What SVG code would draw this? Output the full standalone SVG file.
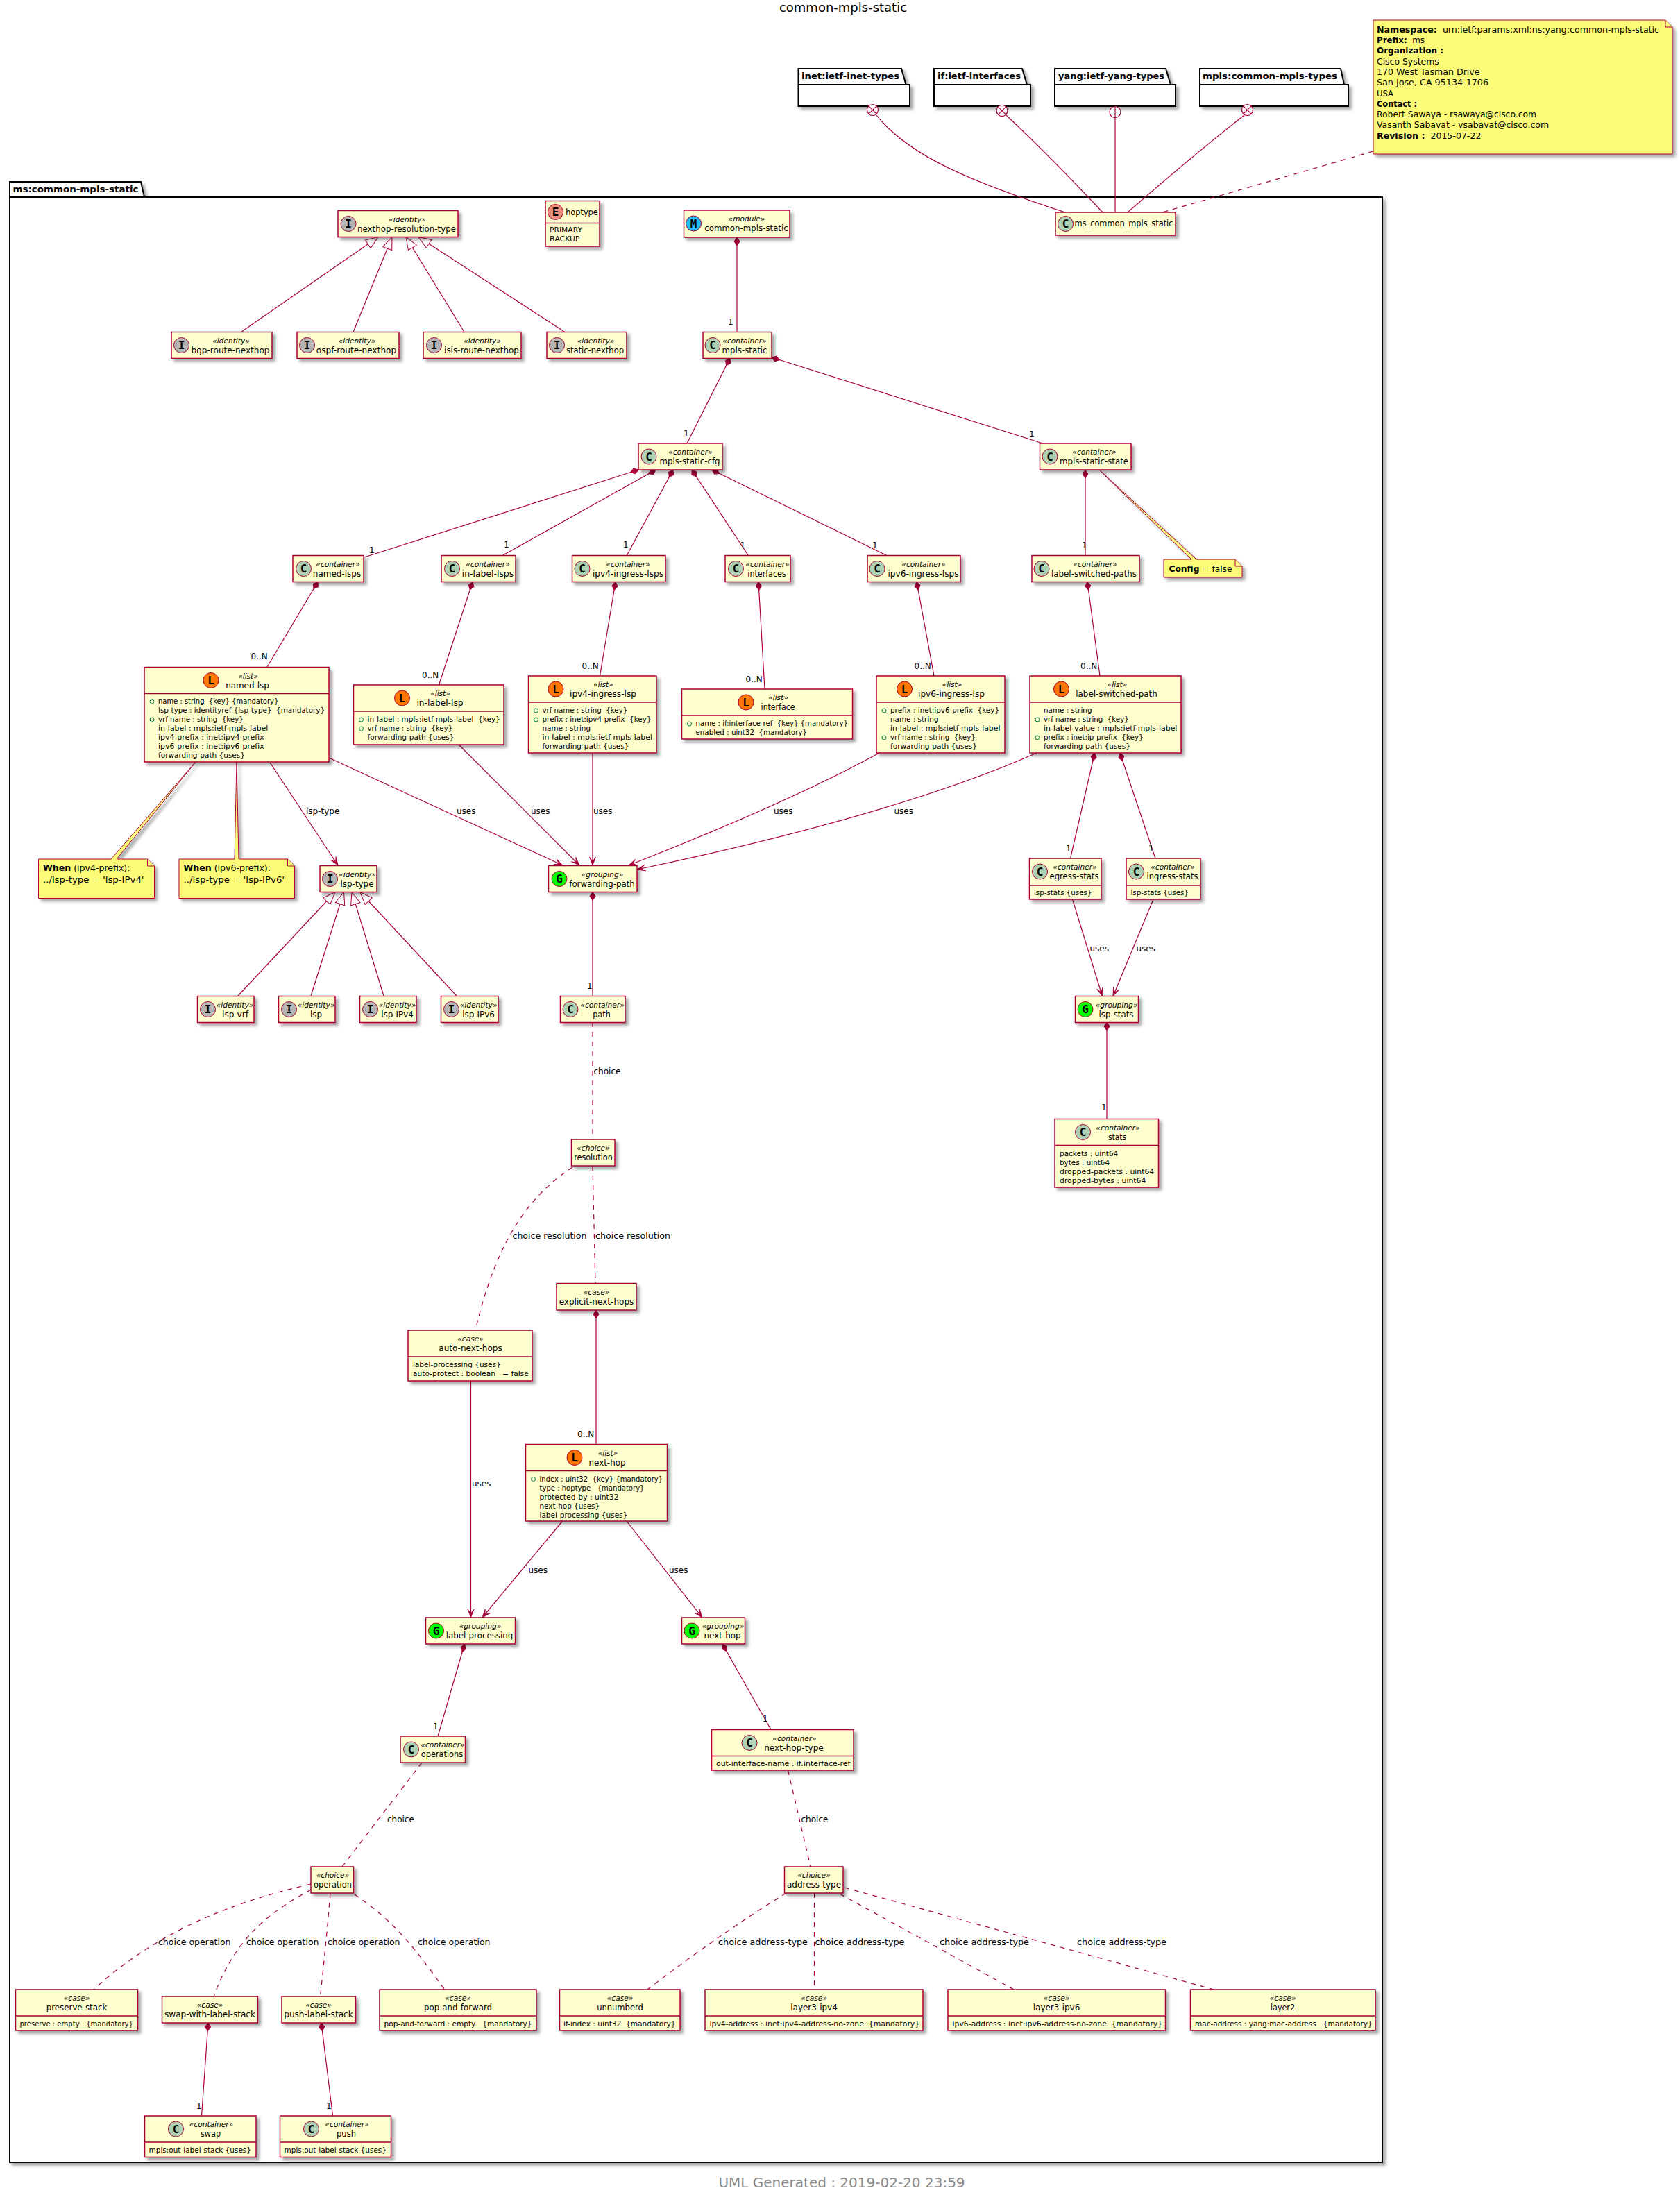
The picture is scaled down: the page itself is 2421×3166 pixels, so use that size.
<svg xmlns="http://www.w3.org/2000/svg" width="2421" height="3166" viewBox="0 0 2421 3166">
<style>
text{font-family:"DejaVu Sans","Liberation Sans",sans-serif;fill:#000;white-space:pre}
.bx{fill:#FEFECE;stroke:#A80036;stroke-width:1.5;filter:url(#sh)}
.dv{stroke:#A80036;stroke-width:1.5;fill:none}
.nt{fill:#FBFB77;stroke:#A80036;stroke-width:1;filter:url(#sh)}
.fd{fill:#FBFB77;stroke:#A80036;stroke-width:1}
.pk{fill:#fff;stroke:#000;stroke-width:2;filter:url(#sh)}
.nm{font-size:11.8px;text-anchor:middle}
.st{font-size:10.6px;font-style:italic;text-anchor:middle}
.at{font-size:10.5px}
.ch{font-family:"DejaVu Sans Mono",monospace;font-weight:bold;font-size:16px;text-anchor:middle}
.lb{font-size:12px}
.pl{font-size:12.6px;font-weight:bold}
.nx{font-size:12.8px}
.ci{stroke:#A80036;stroke-width:1}
.C{fill:#ADD1B2}.I{fill:#B4B4B4}.E{fill:#EB937F}.L{fill:#FF7700}.G{fill:#00FF00}.M{fill:#26BCF7}
.vi{fill:none;stroke:#038048;stroke-width:1}
.l{fill:none;stroke:#A80036;stroke-width:1.2}
.d{stroke-dasharray:7,7}
.cp{marker-start:url(#dia)}
.ar{marker-end:url(#arr)}
.ge{marker-start:url(#tri)}
</style>
<defs>
<filter id="sh" x="-6%" y="-6%" width="125%" height="135%"><feDropShadow dx="4" dy="4" stdDeviation="2.2" flood-color="#000" flood-opacity="0.35"/></filter>
<marker id="dia" markerUnits="userSpaceOnUse" markerWidth="14" markerHeight="10" refX="0" refY="5" orient="auto" overflow="visible"><path d="M0,5L6,1L12,5L6,9Z" fill="#A80036" stroke="#A80036"/></marker>
<marker id="arr" markerUnits="userSpaceOnUse" markerWidth="14" markerHeight="10" refX="13" refY="5" orient="auto" overflow="visible"><path d="M13,5L1,0.5L7,5L1,9.5Z" fill="#A80036" stroke="#A80036" stroke-width="0.8"/></marker>
<marker id="tri" markerUnits="userSpaceOnUse" markerWidth="20" markerHeight="16" refX="0" refY="8" orient="auto" overflow="visible"><path d="M0,8L18,1L18,15Z" fill="#fff" stroke="#A80036"/></marker>
</defs>
<text id="title" x="1215" y="17" font-size="18" text-anchor="middle">common-mpls-static</text>
<g id="pkg-inet"><path class="pk" d="M1150.5,122V99H1299L1305.5,122H1311V153H1150.5V122H1305.5"/><text class="pl" x="1155" y="114" textLength="141" lengthAdjust="spacingAndGlyphs">inet:ietf-inet-types</text></g>
<g id="pkg-if"><path class="pk" d="M1346,122V99H1473L1480,122H1485V153H1346V122H1480"/><text class="pl" x="1351" y="114" textLength="120" lengthAdjust="spacingAndGlyphs">if:ietf-interfaces</text></g>
<g id="pkg-yang"><path class="pk" d="M1520,122V99H1680L1687,122H1694V153H1520V122H1687"/><text class="pl" x="1525" y="114" textLength="153" lengthAdjust="spacingAndGlyphs">yang:ietf-yang-types</text></g>
<g id="pkg-mpls"><path class="pk" d="M1729,122V99H1932L1937,122H1943V153H1729V122H1937"/><text class="pl" x="1733" y="114" textLength="194" lengthAdjust="spacingAndGlyphs">mpls:common-mpls-types</text></g>
<g id="pkg-ms"><path class="pk" d="M14,284V262H203L208,284H1992V3116H14V284H208"/><text class="pl" x="18.5" y="277" textLength="181" lengthAdjust="spacingAndGlyphs">ms:common-mpls-static</text></g>

<g id="connectors">
<circle class="l" cx="1257.5" cy="158.5" r="8" style="fill:#fff"/><path class="l" d="M1251.8,152.8L1263.2,164.2M1263.2,152.8L1251.8,164.2"/>
<circle class="l" cx="1444" cy="159.5" r="8" style="fill:#fff"/><path class="l" d="M1438.3,153.8L1449.7,165.2M1449.7,153.8L1438.3,165.2"/>
<circle class="l" cx="1607" cy="161.5" r="8" style="fill:#fff"/><path class="l" d="M1607,153.5V169.5M1599,161.5H1615"/>
<circle class="l" cx="1797.5" cy="158.5" r="8" style="fill:#fff"/><path class="l" d="M1791.8,152.8L1803.2,164.2M1803.2,152.8L1791.8,164.2"/>
<path class="l" d="M1263,166C1310,225 1400,262 1535,306"/>
<path class="l" d="M1450,166Q1510,222 1589,306"/>
<path class="l" d="M1607,169.5V306"/>
<path class="l" d="M1793,166Q1718,225 1625,306"/>
<path class="l d" d="M1979,218L1675,306"/>
<path class="l cp" d="M1062,342V478"/>
<path class="l cp" d="M1052,516L990,639"/>
<path class="l cp" d="M1112,515L1503,639"/>
<path class="l cp" d="M920,677L525,803"/>
<path class="l cp" d="M945,677L725,800"/>
<path class="l cp" d="M970,677L903.5,800"/>
<path class="l cp" d="M997,677L1078,800"/>
<path class="l cp" d="M1026,677L1277,800"/>
<path class="l cp" d="M1564,677V800"/>
<path class="l cp" d="M458,838.5L385,961"/>
<path class="l cp" d="M681,838.5L632.5,987"/>
<path class="l cp" d="M887,838.5L864.5,974"/>
<path class="l cp" d="M1093,838.5L1102,993"/>
<path class="l cp" d="M1321,838.5L1346,974"/>
<path class="l cp" d="M1567,838.5L1585,974"/>
<path class="l ge" d="M545,341.5L347.5,478.5"/>
<path class="l ge" d="M565,341.5L509,478.5"/>
<path class="l ge" d="M585,341.5L669,478.5"/>
<path class="l ge" d="M603,341.5L814,478.5"/>
<path class="l ar" d="M388.5,1098L487,1247"/>
<path class="l ar" d="M474,1092L811,1247"/>
<path class="l ar" d="M661,1073L835,1247"/>
<path class="l ar" d="M854,1085V1247"/>
<path class="l ar" d="M1267,1085Q1140,1155 906,1247"/>
<path class="l ar" d="M1494,1085Q1290,1175 918,1253"/>
<path class="l cp" d="M1577.5,1085L1542.5,1237"/>
<path class="l cp" d="M1614,1085L1665,1237"/>
<path class="l ar" d="M1545.5,1296L1588.5,1435.5"/>
<path class="l ar" d="M1662,1296L1604,1435.5"/>
<path class="l cp" d="M1595,1473V1612.5"/>
<path class="l ge" d="M483,1285.5L343,1435"/>
<path class="l ge" d="M495.5,1285.5L448,1435"/>
<path class="l ge" d="M507,1285.5L553,1435"/>
<path class="l ge" d="M519,1285.5L658,1435"/>
<path class="l cp" d="M854,1285.5V1435"/>
<path class="l d" d="M854,1473V1642"/>
<path class="l d" d="M854,1680L858,1849.5"/>
<path class="l d" d="M825,1682C760,1725 715,1790 685,1917"/>
<path class="l cp" d="M859,1888V2081.5"/>
<path class="l ar" d="M678.5,1990V2331"/>
<path class="l ar" d="M810.5,2192L695,2331"/>
<path class="l ar" d="M903,2192L1012,2331"/>
<path class="l cp" d="M669.5,2369L631,2502"/>
<path class="l cp" d="M1041,2369L1111,2492.5"/>
<path class="l d" d="M608,2540L493,2690"/>
<path class="l d" d="M1135.5,2551L1168,2690"/>
<path class="l d" d="M448,2715C340,2740 230,2780 135,2867"/>
<path class="l d" d="M448,2723C390,2755 340,2790 308,2877"/>
<path class="l d" d="M476,2728Q470,2800 461.5,2877"/>
<path class="l d" d="M511,2730C570,2770 600,2810 640.5,2867"/>
<path class="l d" d="M1133,2728Q1040,2785 933,2867"/>
<path class="l d" d="M1173.5,2728V2867"/>
<path class="l d" d="M1210,2729L1461,2867"/>
<path class="l d" d="M1217,2720L1749,2867"/>
<path class="l cp" d="M300,2915L290.5,3049"/>
<path class="l cp" d="M463,2915L479.5,3049"/>
</g>
<g id="connector-labels">
<text class="lb" x="1049" y="468">1</text><text class="lb" x="985" y="629">1</text><text class="lb" x="1483" y="630">1</text>
<text class="lb" x="532" y="797">1</text><text class="lb" x="726" y="789">1</text><text class="lb" x="898" y="789">1</text><text class="lb" x="1066.5" y="790">1</text><text class="lb" x="1257" y="790">1</text><text class="lb" x="1559" y="790">1</text>
<text class="lb" x="361.5" y="950">0..N</text><text class="lb" x="608" y="977">0..N</text><text class="lb" x="838.5" y="964">0..N</text><text class="lb" x="1074.5" y="983">0..N</text><text class="lb" x="1317.5" y="964">0..N</text><text class="lb" x="1557" y="964">0..N</text>
<text class="lb" x="441" y="1173">lsp-type</text><text class="lb" x="658" y="1173">uses</text><text class="lb" x="765" y="1173">uses</text><text class="lb" x="855" y="1173">uses</text><text class="lb" x="1115" y="1173">uses</text><text class="lb" x="1288.5" y="1173">uses</text>
<text class="lb" x="1536" y="1226.5">1</text><text class="lb" x="1655" y="1226.5">1</text><text class="lb" x="1570.5" y="1371">uses</text><text class="lb" x="1637.5" y="1371">uses</text><text class="lb" x="1587" y="1600">1</text>
<text class="lb" x="846" y="1425">1</text><text class="lb" x="855.5" y="1548">choice</text>
<text class="lb" x="738.5" y="1785" textLength="107" lengthAdjust="spacingAndGlyphs">choice resolution</text><text class="lb" x="858" y="1785" textLength="108" lengthAdjust="spacingAndGlyphs">choice resolution</text>
<text class="lb" x="832" y="2071">0..N</text><text class="lb" x="680" y="2141.5">uses</text><text class="lb" x="761.5" y="2266.5">uses</text><text class="lb" x="964" y="2266.5">uses</text>
<text class="lb" x="624" y="2492">1</text><text class="lb" x="1099" y="2480.5">1</text><text class="lb" x="558" y="2626">choice</text><text class="lb" x="1154.5" y="2626">choice</text>
<text class="lb" x="228" y="2803" textLength="104.5" lengthAdjust="spacingAndGlyphs">choice operation</text><text class="lb" x="355" y="2803" textLength="104.5" lengthAdjust="spacingAndGlyphs">choice operation</text><text class="lb" x="472" y="2803" textLength="104.5" lengthAdjust="spacingAndGlyphs">choice operation</text><text class="lb" x="602" y="2803" textLength="104.5" lengthAdjust="spacingAndGlyphs">choice operation</text>
<text class="lb" x="1035" y="2803" textLength="129" lengthAdjust="spacingAndGlyphs">choice address-type</text><text class="lb" x="1174.5" y="2803" textLength="129" lengthAdjust="spacingAndGlyphs">choice address-type</text><text class="lb" x="1354" y="2803" textLength="129" lengthAdjust="spacingAndGlyphs">choice address-type</text><text class="lb" x="1552" y="2803" textLength="129" lengthAdjust="spacingAndGlyphs">choice address-type</text>
<text class="lb" x="283" y="3039">1</text><text class="lb" x="470" y="3039">1</text>
</g>

<g id="note-module"><path class="nt" d="M1979,29H2400L2410,39V222H1979Z"/><path class="fd" d="M2400,29V39H2410"/>
<text class="nx" x="1984" y="46.7" textLength="407" lengthAdjust="spacingAndGlyphs"><tspan font-weight="bold">Namespace:</tspan>  urn:ietf:params:xml:ns:yang:common-mpls-static</text>
<text class="nx" x="1984" y="62" textLength="69" lengthAdjust="spacingAndGlyphs"><tspan font-weight="bold">Prefix:</tspan>  ms</text>
<text class="nx" x="1984" y="77.3" textLength="96" lengthAdjust="spacingAndGlyphs"><tspan font-weight="bold">Organization :</tspan></text>
<text class="nx" x="1984" y="92.6" textLength="89.7" lengthAdjust="spacingAndGlyphs">Cisco Systems</text>
<text class="nx" x="1984" y="107.9" textLength="148.6" lengthAdjust="spacingAndGlyphs">170 West Tasman Drive</text>
<text class="nx" x="1984" y="123.2" textLength="161" lengthAdjust="spacingAndGlyphs">San Jose, CA 95134-1706</text>
<text class="nx" x="1984" y="138.5" textLength="24" lengthAdjust="spacingAndGlyphs">USA</text>
<text class="nx" x="1984" y="153.8" textLength="58" lengthAdjust="spacingAndGlyphs"><tspan font-weight="bold">Contact :</tspan></text>
<text class="nx" x="1984" y="169.1" textLength="230" lengthAdjust="spacingAndGlyphs">Robert Sawaya - rsawaya@cisco.com</text>
<text class="nx" x="1984" y="184.4" textLength="248" lengthAdjust="spacingAndGlyphs">Vasanth Sabavat - vsabavat@cisco.com</text>
<text class="nx" x="1984" y="199.7" textLength="150.4" lengthAdjust="spacingAndGlyphs"><tspan font-weight="bold">Revision :</tspan>  2015-07-22</text></g>
<g id="note-ipv4"><path class="nt" d="M55.5,1238H160L282,1098L168,1238H212.5L222.5,1248V1294.5H55.5Z"/><path class="fd" d="M212.5,1238V1248H222.5"/>
<text class="nx" x="62" y="1255" textLength="125.5" lengthAdjust="spacingAndGlyphs"><tspan font-weight="bold">When</tspan> (ipv4-prefix):</text><text class="nx" x="62" y="1271.5" textLength="145.5" lengthAdjust="spacingAndGlyphs">../lsp-type = 'lsp-IPv4'</text></g>
<g id="note-ipv6"><path class="nt" d="M258,1238H338L341,1098L344,1238H414.5L424.5,1248V1294.5H258Z"/><path class="fd" d="M414.5,1238V1248H424.5"/>
<text class="nx" x="264.5" y="1255" textLength="125.5" lengthAdjust="spacingAndGlyphs"><tspan font-weight="bold">When</tspan> (ipv6-prefix):</text><text class="nx" x="264.5" y="1271.5" textLength="145.5" lengthAdjust="spacingAndGlyphs">../lsp-type = 'lsp-IPv6'</text></g>
<g id="note-config"><path class="nt" d="M1677,806H1717L1584,677L1724,806H1780L1790,816V832H1677Z"/><path class="fd" d="M1780,806V816H1790"/>
<text class="nx" x="1684.5" y="824" textLength="91" lengthAdjust="spacingAndGlyphs"><tspan font-weight="bold">Config</tspan> = false</text></g>

<g id="ms_common_mpls_static"><rect class="bx" x="1521" y="306" width="173" height="33"/><circle class="ci C" cx="1535.5" cy="322.5" r="11"/><text class="ch" x="1535.5" y="328">C</text><text class="nm" x="1619.5" y="326" textLength="142" lengthAdjust="spacingAndGlyphs">ms_common_mpls_static</text></g>
<g id="nexthop-resolution-type"><rect class="bx" x="487" y="303.5" width="173" height="38"/><circle class="ci I" cx="502" cy="322.5" r="11"/><text class="ch" x="502" y="328">I</text><text class="st" x="587" y="319.5">«identity»</text><text class="nm" x="586" y="333.5" textLength="142" lengthAdjust="spacingAndGlyphs">nexthop-resolution-type</text></g>
<g id="hoptype"><rect class="bx" x="786" y="289.5" width="78" height="65.5"/><path class="dv" d="M786,321.5H864"/><circle class="ci E" cx="800.5" cy="305.5" r="11"/><text class="ch" x="800.5" y="311">E</text><text class="nm" x="838.5" y="309.5" textLength="46.6" lengthAdjust="spacingAndGlyphs">hoptype</text><text class="at" x="792" y="335" textLength="47" lengthAdjust="spacingAndGlyphs">PRIMARY</text><text class="at" x="792" y="348" textLength="43.4" lengthAdjust="spacingAndGlyphs">BACKUP</text></g>
<g id="common-mpls-static"><rect class="bx" x="985.5" y="303" width="152.5" height="39"/><circle class="ci M" cx="999.5" cy="322" r="11"/><text class="ch" x="999.5" y="327.5">M</text><text class="st" x="1076" y="319">«module»</text><text class="nm" x="1075.5" y="333" textLength="120.5" lengthAdjust="spacingAndGlyphs">common-mpls-static</text></g>
<g id="bgp-route-nexthop"><rect class="bx" x="247" y="478.5" width="145" height="38"/><circle class="ci I" cx="261.5" cy="497.5" r="11"/><text class="ch" x="261.5" y="503">I</text><text class="st" x="333" y="494.5">«identity»</text><text class="nm" x="332" y="508.5" textLength="113" lengthAdjust="spacingAndGlyphs">bgp-route-nexthop</text></g>
<g id="ospf-route-nexthop"><rect class="bx" x="428" y="478.5" width="147" height="38"/><circle class="ci I" cx="442.5" cy="497.5" r="11"/><text class="ch" x="442.5" y="503">I</text><text class="st" x="514.5" y="494.5">«identity»</text><text class="nm" x="513.5" y="508.5" textLength="115.4" lengthAdjust="spacingAndGlyphs">ospf-route-nexthop</text></g>
<g id="isis-route-nexthop"><rect class="bx" x="610" y="478.5" width="141" height="38"/><circle class="ci I" cx="625.5" cy="497.5" r="11"/><text class="ch" x="625.5" y="503">I</text><text class="st" x="695" y="494.5">«identity»</text><text class="nm" x="694" y="508.5" textLength="107.8" lengthAdjust="spacingAndGlyphs">isis-route-nexthop</text></g>
<g id="static-nexthop"><rect class="bx" x="788" y="478.5" width="115" height="38"/><circle class="ci I" cx="802.5" cy="497.5" r="11"/><text class="ch" x="802.5" y="503">I</text><text class="st" x="858.5" y="494.5">«identity»</text><text class="nm" x="857.5" y="508.5" textLength="83" lengthAdjust="spacingAndGlyphs">static-nexthop</text></g>
<g id="mpls-static"><rect class="bx" x="1013" y="478.5" width="99" height="38"/><circle class="ci C" cx="1027" cy="497.5" r="11"/><text class="ch" x="1027" y="503">C</text><text class="st" x="1073" y="494.5">«container»</text><text class="nm" x="1073" y="508.5">mpls-static</text></g>
<g id="mpls-static-cfg"><rect class="bx" x="920" y="639" width="121" height="38"/><circle class="ci C" cx="935" cy="658" r="11"/><text class="ch" x="935" y="663.5">C</text><text class="st" x="995" y="655">«container»</text><text class="nm" x="994" y="669" textLength="87" lengthAdjust="spacingAndGlyphs">mpls-static-cfg</text></g>
<g id="mpls-static-state"><rect class="bx" x="1498.5" y="639" width="131.5" height="38"/><circle class="ci C" cx="1513" cy="658" r="11"/><text class="ch" x="1513" y="663.5">C</text><text class="st" x="1577" y="655">«container»</text><text class="nm" x="1576.5" y="669" textLength="99" lengthAdjust="spacingAndGlyphs">mpls-static-state</text></g>
<g id="named-lsps"><rect class="bx" x="422" y="800.5" width="102" height="38"/><circle class="ci C" cx="437.5" cy="819.5" r="11"/><text class="ch" x="437.5" y="825">C</text><text class="st" x="487" y="816.5">«container»</text><text class="nm" x="485.5" y="830.5" textLength="69.4" lengthAdjust="spacingAndGlyphs">named-lsps</text></g>
<g id="in-label-lsps"><rect class="bx" x="636" y="800.5" width="107" height="38"/><circle class="ci C" cx="651.5" cy="819.5" r="11"/><text class="ch" x="651.5" y="825">C</text><text class="st" x="703" y="816.5">«container»</text><text class="nm" x="703" y="830.5" textLength="74.3" lengthAdjust="spacingAndGlyphs">in-label-lsps</text></g>
<g id="ipv4-ingress-lsps"><rect class="bx" x="824.5" y="800.5" width="134.5" height="38"/><circle class="ci C" cx="839" cy="819.5" r="11"/><text class="ch" x="839" y="825">C</text><text class="st" x="905" y="816.5">«container»</text><text class="nm" x="905" y="830.5" textLength="102" lengthAdjust="spacingAndGlyphs">ipv4-ingress-lsps</text></g>
<g id="interfaces"><rect class="bx" x="1045" y="800.5" width="94" height="38"/><circle class="ci C" cx="1060.5" cy="819.5" r="11"/><text class="ch" x="1060.5" y="825">C</text><text class="st" x="1106" y="816.5">«container»</text><text class="nm" x="1105" y="830.5" textLength="55.3" lengthAdjust="spacingAndGlyphs">interfaces</text></g>
<g id="ipv6-ingress-lsps"><rect class="bx" x="1250" y="800.5" width="134" height="38"/><circle class="ci C" cx="1264" cy="819.5" r="11"/><text class="ch" x="1264" y="825">C</text><text class="st" x="1331" y="816.5">«container»</text><text class="nm" x="1330.5" y="830.5" textLength="102" lengthAdjust="spacingAndGlyphs">ipv6-ingress-lsps</text></g>
<g id="label-switched-paths"><rect class="bx" x="1487" y="800.5" width="155" height="38"/><circle class="ci C" cx="1501" cy="819.5" r="11"/><text class="ch" x="1501" y="825">C</text><text class="st" x="1578" y="816.5">«container»</text><text class="nm" x="1576.5" y="830.5" textLength="123" lengthAdjust="spacingAndGlyphs">label-switched-paths</text></g>

<g id="named-lsp"><rect class="bx" x="208" y="961.5" width="266" height="136.5"/><path class="dv" d="M208,999.5H474"/><circle class="ci L" cx="304" cy="980.5" r="11"/><text class="ch" x="304" y="986">L</text><text class="st" x="357.5" y="977.5">«list»</text><text class="nm" x="356.5" y="991.5" textLength="62.7" lengthAdjust="spacingAndGlyphs">named-lsp</text>
<circle class="vi" cx="219" cy="1011" r="3"/><text class="at" x="228" y="1014" textLength="173.3" lengthAdjust="spacingAndGlyphs">name : string  {key} {mandatory}</text><text class="at" x="228" y="1027" textLength="240" lengthAdjust="spacingAndGlyphs">lsp-type : identityref {lsp-type}  {mandatory}</text><circle class="vi" cx="219" cy="1037" r="3"/><text class="at" x="228" y="1040" textLength="122.7" lengthAdjust="spacingAndGlyphs">vrf-name : string  {key}</text><text class="at" x="228" y="1053" textLength="158.3" lengthAdjust="spacingAndGlyphs">in-label : mpls:ietf-mpls-label</text><text class="at" x="228" y="1066" textLength="152.7" lengthAdjust="spacingAndGlyphs">ipv4-prefix : inet:ipv4-prefix</text><text class="at" x="228" y="1079" textLength="152.7" lengthAdjust="spacingAndGlyphs">ipv6-prefix : inet:ipv6-prefix</text><text class="at" x="228" y="1092" textLength="125" lengthAdjust="spacingAndGlyphs">forwarding-path {uses}</text></g>
<g id="in-label-lsp"><rect class="bx" x="509.5" y="987" width="216.5" height="86"/><path class="dv" d="M509.5,1025H726"/><circle class="ci L" cx="579.5" cy="1006" r="11"/><text class="ch" x="579.5" y="1011.5">L</text><text class="st" x="634.5" y="1003">«list»</text><text class="nm" x="634" y="1017" textLength="67.2" lengthAdjust="spacingAndGlyphs">in-label-lsp</text>
<circle class="vi" cx="520.5" cy="1037" r="3"/><text class="at" x="529.5" y="1040" textLength="191.3" lengthAdjust="spacingAndGlyphs">in-label : mpls:ietf-mpls-label  {key}</text><circle class="vi" cx="520.5" cy="1050" r="3"/><text class="at" x="529.5" y="1053" textLength="122.7" lengthAdjust="spacingAndGlyphs">vrf-name : string  {key}</text><text class="at" x="529.5" y="1066" textLength="125" lengthAdjust="spacingAndGlyphs">forwarding-path {uses}</text></g>
<g id="ipv4-ingress-lsp"><rect class="bx" x="761.5" y="974" width="184.5" height="111"/><path class="dv" d="M761.5,1012H946"/><circle class="ci L" cx="801" cy="993" r="11"/><text class="ch" x="801" y="998.5">L</text><text class="st" x="869.5" y="990">«list»</text><text class="nm" x="869" y="1004" textLength="96" lengthAdjust="spacingAndGlyphs">ipv4-ingress-lsp</text>
<circle class="vi" cx="772.5" cy="1024" r="3"/><text class="at" x="781.5" y="1027" textLength="122.7" lengthAdjust="spacingAndGlyphs">vrf-name : string  {key}</text><circle class="vi" cx="772.5" cy="1037" r="3"/><text class="at" x="781.5" y="1040" textLength="157" lengthAdjust="spacingAndGlyphs">prefix : inet:ipv4-prefix  {key}</text><text class="at" x="781.5" y="1053" textLength="69.5" lengthAdjust="spacingAndGlyphs">name : string</text><text class="at" x="781.5" y="1066" textLength="158.5" lengthAdjust="spacingAndGlyphs">in-label : mpls:ietf-mpls-label</text><text class="at" x="781.5" y="1079" textLength="125" lengthAdjust="spacingAndGlyphs">forwarding-path {uses}</text></g>
<g id="interface"><rect class="bx" x="982.5" y="993" width="246" height="72"/><path class="dv" d="M982.5,1031H1228.5"/><circle class="ci L" cx="1075" cy="1012" r="11"/><text class="ch" x="1075" y="1017.5">L</text><text class="st" x="1121.5" y="1009">«list»</text><text class="nm" x="1121" y="1023" textLength="48.8" lengthAdjust="spacingAndGlyphs">interface</text>
<circle class="vi" cx="993.5" cy="1043" r="3"/><text class="at" x="1002.5" y="1046" textLength="219.5" lengthAdjust="spacingAndGlyphs">name : if:interface-ref  {key} {mandatory}</text><text class="at" x="1002.5" y="1059" textLength="160.4" lengthAdjust="spacingAndGlyphs">enabled : uint32  {mandatory}</text></g>
<g id="ipv6-ingress-lsp"><rect class="bx" x="1263" y="974" width="185" height="111"/><path class="dv" d="M1263,1012H1448"/><circle class="ci L" cx="1303.5" cy="993" r="11"/><text class="ch" x="1303.5" y="998.5">L</text><text class="st" x="1372" y="990">«list»</text><text class="nm" x="1371" y="1004" textLength="96" lengthAdjust="spacingAndGlyphs">ipv6-ingress-lsp</text>
<circle class="vi" cx="1274" cy="1024" r="3"/><text class="at" x="1283" y="1027" textLength="157" lengthAdjust="spacingAndGlyphs">prefix : inet:ipv6-prefix  {key}</text><text class="at" x="1283" y="1040" textLength="69.5" lengthAdjust="spacingAndGlyphs">name : string</text><text class="at" x="1283" y="1053" textLength="158.5" lengthAdjust="spacingAndGlyphs">in-label : mpls:ietf-mpls-label</text><circle class="vi" cx="1274" cy="1063" r="3"/><text class="at" x="1283" y="1066" textLength="122.7" lengthAdjust="spacingAndGlyphs">vrf-name : string  {key}</text><text class="at" x="1283" y="1079" textLength="125" lengthAdjust="spacingAndGlyphs">forwarding-path {uses}</text></g>
<g id="label-switched-path"><rect class="bx" x="1484" y="974" width="218" height="111"/><path class="dv" d="M1484,1012H1702"/><circle class="ci L" cx="1529.5" cy="993" r="11"/><text class="ch" x="1529.5" y="998.5">L</text><text class="st" x="1610" y="990">«list»</text><text class="nm" x="1609" y="1004" textLength="117.6" lengthAdjust="spacingAndGlyphs">label-switched-path</text>
<text class="at" x="1504" y="1027" textLength="69.5" lengthAdjust="spacingAndGlyphs">name : string</text><circle class="vi" cx="1495" cy="1037" r="3"/><text class="at" x="1504" y="1040" textLength="122.7" lengthAdjust="spacingAndGlyphs">vrf-name : string  {key}</text><text class="at" x="1504" y="1053" textLength="192.4" lengthAdjust="spacingAndGlyphs">in-label-value : mpls:ietf-mpls-label</text><circle class="vi" cx="1495" cy="1063" r="3"/><text class="at" x="1504" y="1066" textLength="143.6" lengthAdjust="spacingAndGlyphs">prefix : inet:ip-prefix  {key}</text><text class="at" x="1504" y="1079" textLength="125" lengthAdjust="spacingAndGlyphs">forwarding-path {uses}</text></g>

<g id="lsp-type"><rect class="bx" x="461" y="1247.5" width="82" height="38"/><circle class="ci I" cx="475.5" cy="1266.5" r="11"/><text class="ch" x="475.5" y="1272">I</text><text class="st" x="515" y="1263.5">«identity»</text><text class="nm" x="514.5" y="1277.5" textLength="48" lengthAdjust="spacingAndGlyphs">lsp-type</text></g>
<g id="forwarding-path"><rect class="bx" x="790.5" y="1247.5" width="127.5" height="38"/><circle class="ci G" cx="806" cy="1266.5" r="11"/><text class="ch" x="806" y="1272">G</text><text class="st" x="868" y="1263.5">«grouping»</text><text class="nm" x="867.5" y="1277.5" textLength="94.5" lengthAdjust="spacingAndGlyphs">forwarding-path</text></g>
<g id="egress-stats"><rect class="bx" x="1483.5" y="1237" width="103.5" height="59"/><path class="dv" d="M1483.5,1276H1587"/><circle class="ci C" cx="1498.5" cy="1256" r="11"/><text class="ch" x="1498.5" y="1261.5">C</text><text class="st" x="1549" y="1253">«container»</text><text class="nm" x="1548" y="1267" textLength="71" lengthAdjust="spacingAndGlyphs">egress-stats</text><text class="at" x="1490" y="1290" textLength="83.4" lengthAdjust="spacingAndGlyphs">lsp-stats {uses}</text></g>
<g id="ingress-stats"><rect class="bx" x="1623" y="1237" width="107" height="59"/><path class="dv" d="M1623,1276H1730"/><circle class="ci C" cx="1637.5" cy="1256" r="11"/><text class="ch" x="1637.5" y="1261.5">C</text><text class="st" x="1690" y="1253">«container»</text><text class="nm" x="1689.5" y="1267" textLength="74" lengthAdjust="spacingAndGlyphs">ingress-stats</text><text class="at" x="1629.5" y="1290" textLength="83.4" lengthAdjust="spacingAndGlyphs">lsp-stats {uses}</text></g>
<g id="lsp-stats"><rect class="bx" x="1549.5" y="1435.5" width="91" height="38"/><circle class="ci G" cx="1564" cy="1454.5" r="11"/><text class="ch" x="1564" y="1460">G</text><text class="st" x="1609" y="1451.5">«grouping»</text><text class="nm" x="1608.5" y="1465.5" textLength="50" lengthAdjust="spacingAndGlyphs">lsp-stats</text></g>
<g id="stats"><rect class="bx" x="1520" y="1612.5" width="149.5" height="98.5"/><path class="dv" d="M1520,1650.5H1669.5"/><circle class="ci C" cx="1560.5" cy="1631.5" r="11"/><text class="ch" x="1560.5" y="1637">C</text><text class="st" x="1611" y="1628.5">«container»</text><text class="nm" x="1610" y="1642.5" textLength="26" lengthAdjust="spacingAndGlyphs">stats</text><text class="at" x="1527" y="1665.5" textLength="84.2" lengthAdjust="spacingAndGlyphs">packets : uint64</text><text class="at" x="1527" y="1678.5" textLength="72" lengthAdjust="spacingAndGlyphs">bytes : uint64</text><text class="at" x="1527" y="1691.5" textLength="136.2" lengthAdjust="spacingAndGlyphs">dropped-packets : uint64</text><text class="at" x="1527" y="1704.5" textLength="124.4" lengthAdjust="spacingAndGlyphs">dropped-bytes : uint64</text></g>
<g id="lsp-vrf"><rect class="bx" x="284.5" y="1435.5" width="81.5" height="38"/><circle class="ci I" cx="299.5" cy="1454.5" r="11"/><text class="ch" x="299.5" y="1460">I</text><text class="st" x="338.5" y="1451.5">«identity»</text><text class="nm" x="339" y="1465.5" textLength="38" lengthAdjust="spacingAndGlyphs">lsp-vrf</text></g>
<g id="lsp"><rect class="bx" x="401.5" y="1435.5" width="81.5" height="38"/><circle class="ci I" cx="416.5" cy="1454.5" r="11"/><text class="ch" x="416.5" y="1460">I</text><text class="st" x="455.5" y="1451.5">«identity»</text><text class="nm" x="455.5" y="1465.5" textLength="17" lengthAdjust="spacingAndGlyphs">lsp</text></g>
<g id="lsp-IPv4"><rect class="bx" x="518.5" y="1435.5" width="81.5" height="38"/><circle class="ci I" cx="533.5" cy="1454.5" r="11"/><text class="ch" x="533.5" y="1460">I</text><text class="st" x="572.5" y="1451.5">«identity»</text><text class="nm" x="572.5" y="1465.5" textLength="46.7" lengthAdjust="spacingAndGlyphs">lsp-IPv4</text></g>
<g id="lsp-IPv6"><rect class="bx" x="635.5" y="1435.5" width="82.5" height="38"/><circle class="ci I" cx="650.5" cy="1454.5" r="11"/><text class="ch" x="650.5" y="1460">I</text><text class="st" x="689.5" y="1451.5">«identity»</text><text class="nm" x="689.5" y="1465.5" textLength="46.7" lengthAdjust="spacingAndGlyphs">lsp-IPv6</text></g>
<g id="path"><rect class="bx" x="807.5" y="1435.5" width="93.5" height="38"/><circle class="ci C" cx="822" cy="1454.5" r="11"/><text class="ch" x="822" y="1460">C</text><text class="st" x="868" y="1451.5">«container»</text><text class="nm" x="867" y="1465.5" textLength="25.5" lengthAdjust="spacingAndGlyphs">path</text></g>
<g id="resolution"><rect class="bx" x="823.5" y="1642" width="62.5" height="38"/><text class="st" x="855" y="1658">«choice»</text><text class="nm" x="855" y="1672" textLength="55.7" lengthAdjust="spacingAndGlyphs">resolution</text></g>
<g id="explicit-next-hops"><rect class="bx" x="802" y="1849.5" width="115" height="38.5"/><text class="st" x="859.5" y="1865.5">«case»</text><text class="nm" x="859.5" y="1879.5" textLength="107.7" lengthAdjust="spacingAndGlyphs">explicit-next-hops</text></g>
<g id="auto-next-hops"><rect class="bx" x="588" y="1917" width="179" height="73"/><path class="dv" d="M588,1955H767"/><text class="st" x="678" y="1933">«case»</text><text class="nm" x="678" y="1947" textLength="91.3" lengthAdjust="spacingAndGlyphs">auto-next-hops</text><text class="at" x="595" y="1970" textLength="126.7" lengthAdjust="spacingAndGlyphs">label-processing {uses}</text><text class="at" x="595" y="1983" textLength="166.7" lengthAdjust="spacingAndGlyphs">auto-protect : boolean   = false</text></g>
<g id="next-hop-list"><rect class="bx" x="757.5" y="2081.5" width="204" height="110.5"/><path class="dv" d="M757.5,2119.5H961.5"/><circle class="ci L" cx="828" cy="2100.5" r="11"/><text class="ch" x="828" y="2106">L</text><text class="st" x="876" y="2097.5">«list»</text><text class="nm" x="875" y="2111.5" textLength="53" lengthAdjust="spacingAndGlyphs">next-hop</text>
<circle class="vi" cx="768.5" cy="2131.5" r="3"/><text class="at" x="777.5" y="2134.5" textLength="177.7" lengthAdjust="spacingAndGlyphs">index : uint32  {key} {mandatory}</text><text class="at" x="777.5" y="2147.5" textLength="151" lengthAdjust="spacingAndGlyphs">type : hoptype   {mandatory}</text><text class="at" x="777.5" y="2160.5" textLength="114" lengthAdjust="spacingAndGlyphs">protected-by : uint32</text><text class="at" x="777.5" y="2173.5" textLength="86.6" lengthAdjust="spacingAndGlyphs">next-hop {uses}</text><text class="at" x="777.5" y="2186.5" textLength="126.8" lengthAdjust="spacingAndGlyphs">label-processing {uses}</text></g>
<g id="label-processing"><rect class="bx" x="613.5" y="2331" width="129" height="38"/><circle class="ci G" cx="628.5" cy="2350" r="11"/><text class="ch" x="628.5" y="2355.5">G</text><text class="st" x="692" y="2347">«grouping»</text><text class="nm" x="691" y="2361" textLength="96.4" lengthAdjust="spacingAndGlyphs">label-processing</text></g>
<g id="next-hop-grouping"><rect class="bx" x="982.5" y="2331" width="91" height="38"/><circle class="ci G" cx="997" cy="2350" r="11"/><text class="ch" x="997" y="2355.5">G</text><text class="st" x="1042" y="2347">«grouping»</text><text class="nm" x="1041" y="2361" textLength="53" lengthAdjust="spacingAndGlyphs">next-hop</text></g>
<g id="operations"><rect class="bx" x="577" y="2502" width="93.5" height="38"/><circle class="ci C" cx="592.5" cy="2521" r="11"/><text class="ch" x="592.5" y="2526.5">C</text><text class="st" x="638" y="2518">«container»</text><text class="nm" x="637" y="2532" textLength="60.3" lengthAdjust="spacingAndGlyphs">operations</text></g>
<g id="next-hop-type"><rect class="bx" x="1025.5" y="2492.5" width="204.5" height="58.5"/><path class="dv" d="M1025.5,2530.5H1230"/><circle class="ci C" cx="1080" cy="2511.5" r="11"/><text class="ch" x="1080" y="2517">C</text><text class="st" x="1145" y="2508.5">«container»</text><text class="nm" x="1144" y="2522.5" textLength="85.7" lengthAdjust="spacingAndGlyphs">next-hop-type</text><text class="at" x="1032" y="2545" textLength="193.3" lengthAdjust="spacingAndGlyphs">out-interface-name : if:interface-ref</text></g>
<g id="operation"><rect class="bx" x="448" y="2690" width="61.5" height="38"/><text class="st" x="479.5" y="2706">«choice»</text><text class="nm" x="479.5" y="2720" textLength="55" lengthAdjust="spacingAndGlyphs">operation</text></g>
<g id="address-type"><rect class="bx" x="1130.5" y="2690" width="84.5" height="38"/><text class="st" x="1173" y="2706">«choice»</text><text class="nm" x="1173" y="2720" textLength="78" lengthAdjust="spacingAndGlyphs">address-type</text></g>
<g id="preserve-stack"><rect class="bx" x="22.5" y="2867" width="176" height="59"/><path class="dv" d="M22.5,2905H198.5"/><text class="st" x="110.5" y="2883">«case»</text><text class="nm" x="110.5" y="2897" textLength="87.5" lengthAdjust="spacingAndGlyphs">preserve-stack</text><text class="at" x="28.5" y="2920" textLength="163.4" lengthAdjust="spacingAndGlyphs">preserve : empty   {mandatory}</text></g>
<g id="swap-with-label-stack"><rect class="bx" x="233.5" y="2877" width="138" height="38"/><text class="st" x="302.5" y="2893">«case»</text><text class="nm" x="302.5" y="2907" textLength="130.8" lengthAdjust="spacingAndGlyphs">swap-with-label-stack</text></g>
<g id="push-label-stack"><rect class="bx" x="406" y="2877" width="106.5" height="38"/><text class="st" x="459" y="2893">«case»</text><text class="nm" x="459" y="2907" textLength="99.6" lengthAdjust="spacingAndGlyphs">push-label-stack</text></g>
<g id="pop-and-forward"><rect class="bx" x="547" y="2867" width="226" height="59"/><path class="dv" d="M547,2905H773"/><text class="st" x="660" y="2883">«case»</text><text class="nm" x="660" y="2897">pop-and-forward</text><text class="at" x="553.5" y="2920" textLength="213" lengthAdjust="spacingAndGlyphs">pop-and-forward : empty   {mandatory}</text></g>
<g id="unnumberd"><rect class="bx" x="806.5" y="2867" width="173.5" height="59"/><path class="dv" d="M806.5,2905H980"/><text class="st" x="893.5" y="2883">«case»</text><text class="nm" x="893.5" y="2897" textLength="66.7" lengthAdjust="spacingAndGlyphs">unnumberd</text><text class="at" x="812" y="2920" textLength="161.6" lengthAdjust="spacingAndGlyphs">if-index : uint32  {mandatory}</text></g>
<g id="layer3-ipv4"><rect class="bx" x="1016" y="2867" width="314" height="59"/><path class="dv" d="M1016,2905H1330"/><text class="st" x="1173" y="2883">«case»</text><text class="nm" x="1173" y="2897" textLength="67.5" lengthAdjust="spacingAndGlyphs">layer3-ipv4</text><text class="at" x="1022.5" y="2920" textLength="302.7" lengthAdjust="spacingAndGlyphs">ipv4-address : inet:ipv4-address-no-zone  {mandatory}</text></g>
<g id="layer3-ipv6"><rect class="bx" x="1366" y="2867" width="313.5" height="59"/><path class="dv" d="M1366,2905H1679.5"/><text class="st" x="1522.5" y="2883">«case»</text><text class="nm" x="1522.5" y="2897" textLength="67.5" lengthAdjust="spacingAndGlyphs">layer3-ipv6</text><text class="at" x="1372.5" y="2920" textLength="302.7" lengthAdjust="spacingAndGlyphs">ipv6-address : inet:ipv6-address-no-zone  {mandatory}</text></g>
<g id="layer2"><rect class="bx" x="1715.5" y="2867" width="266.5" height="59"/><path class="dv" d="M1715.5,2905H1982"/><text class="st" x="1848.5" y="2883">«case»</text><text class="nm" x="1848.5" y="2897" textLength="35" lengthAdjust="spacingAndGlyphs">layer2</text><text class="at" x="1722" y="2920" textLength="255.7" lengthAdjust="spacingAndGlyphs">mac-address : yang:mac-address   {mandatory}</text></g>
<g id="swap"><rect class="bx" x="208.5" y="3049" width="160.5" height="59.5"/><path class="dv" d="M208.5,3087H369"/><circle class="ci C" cx="253.5" cy="3068" r="11"/><text class="ch" x="253.5" y="3073.5">C</text><text class="st" x="304.5" y="3065">«container»</text><text class="nm" x="303.5" y="3079" textLength="29" lengthAdjust="spacingAndGlyphs">swap</text><text class="at" x="214.5" y="3102" textLength="147.5" lengthAdjust="spacingAndGlyphs">mpls:out-label-stack {uses}</text></g>
<g id="push"><rect class="bx" x="403.5" y="3049" width="160" height="59.5"/><path class="dv" d="M403.5,3087H563.5"/><circle class="ci C" cx="448.5" cy="3068" r="11"/><text class="ch" x="448.5" y="3073.5">C</text><text class="st" x="500" y="3065">«container»</text><text class="nm" x="499" y="3079" textLength="28" lengthAdjust="spacingAndGlyphs">push</text><text class="at" x="409.5" y="3102" textLength="147.5" lengthAdjust="spacingAndGlyphs">mpls:out-label-stack {uses}</text></g>
<text id="footer" x="1213" y="3152" font-size="20" text-anchor="middle" style="fill:#888888">UML Generated : 2019-02-20 23:59</text>
</svg>
